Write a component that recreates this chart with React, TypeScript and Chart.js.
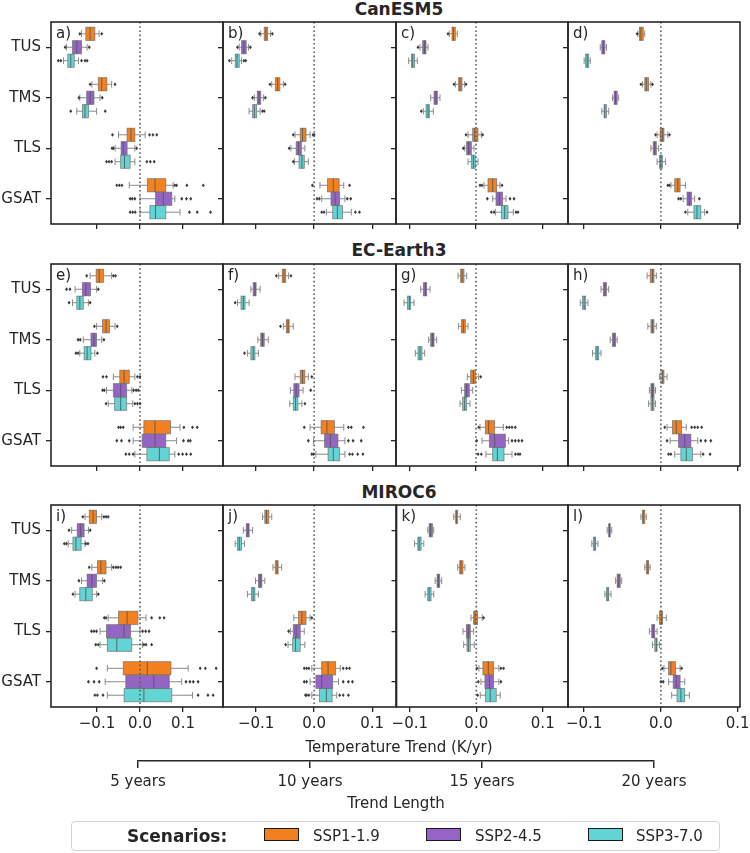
import React, { useEffect, useRef } from "react";
import { Chart, registerables } from "chart.js";

Chart.register(...registerables);

// Box summary: [lower whisker, Q1, median, Q3, upper whisker] in K/yr
type Box = [number, number, number, number, number];

const VARIABLES = ["TUS", "TMS", "TLS", "GSAT"];
const TREND_LENGTHS = [5, 10, 15, 20];
const MODELS = ["CanESM5", "EC-Earth3", "MIROC6"];
const SCENARIOS = ["SSP1-1.9", "SSP2-4.5", "SSP3-7.0"];
const SCENARIO_COLORS = ["#f4811f", "#9565c6", "#62d4d4"];
const PANEL_LETTERS = ["a", "b", "c", "d", "e", "f", "g", "h", "i", "j", "k", "l"];
const X_TICKS = [-0.1, 0, 0.1];
// shared x limits per trend length column
const X_MIN = [-0.207, -0.157, -0.12, -0.121];
const X_MAX = [0.193, 0.141, 0.138, 0.103];

// Each array: rows = trend length (5, 10, 15, 20 yr), columns = TUS, TMS, TLS, GSAT
const CANESM5_SSP119: Box[][] = [
  [[-0.136, -0.126, -0.116, -0.105, -0.095], [-0.112, -0.097, -0.089, -0.077, -0.066], [-0.05, -0.03, -0.021, -0.012, 0.012], [-0.025, 0.017, 0.035, 0.06, 0.077]],
  [[-0.092, -0.086, -0.083, -0.08, -0.075], [-0.073, -0.067, -0.063, -0.059, -0.053], [-0.033, -0.024, -0.02, -0.014, -0.007], [0.01, 0.023, 0.033, 0.043, 0.051]],
  [[-0.04, -0.036, -0.034, -0.031, -0.028], [-0.031, -0.026, -0.024, -0.021, -0.017], [-0.012, -0.005, -0.002, 0.003, 0.008], [0.012, 0.018, 0.025, 0.031, 0.036]],
  [[-0.03, -0.028, -0.026, -0.023, -0.021], [-0.024, -0.021, -0.019, -0.016, -0.013], [-0.005, -0.001, 0.002, 0.004, 0.009], [0.013, 0.018, 0.022, 0.025, 0.032]],
];
const CANESM5_SSP245: Box[][] = [
  [[-0.171, -0.157, -0.147, -0.136, -0.123], [-0.14, -0.124, -0.116, -0.107, -0.093], [-0.058, -0.044, -0.039, -0.03, -0.012], [0.0, 0.036, 0.054, 0.074, 0.081]],
  [[-0.129, -0.125, -0.121, -0.117, -0.113], [-0.103, -0.098, -0.095, -0.092, -0.087], [-0.04, -0.031, -0.027, -0.022, -0.016], [0.013, 0.029, 0.036, 0.044, 0.053]],
  [[-0.084, -0.08, -0.077, -0.075, -0.072], [-0.068, -0.063, -0.06, -0.058, -0.054], [-0.017, -0.014, -0.011, -0.007, -0.003], [0.025, 0.03, 0.035, 0.04, 0.045]],
  [[-0.079, -0.077, -0.075, -0.073, -0.071], [-0.063, -0.061, -0.059, -0.057, -0.055], [-0.013, -0.01, -0.008, -0.006, -0.003], [0.029, 0.034, 0.037, 0.04, 0.044]],
];
const CANESM5_SSP370: Box[][] = [
  [[-0.178, -0.168, -0.161, -0.153, -0.143], [-0.147, -0.134, -0.128, -0.12, -0.101], [-0.058, -0.045, -0.036, -0.023, -0.012], [0.0, 0.023, 0.036, 0.06, 0.093]],
  [[-0.142, -0.136, -0.133, -0.129, -0.125], [-0.112, -0.106, -0.103, -0.099, -0.093], [-0.034, -0.026, -0.021, -0.017, -0.01], [0.021, 0.032, 0.04, 0.049, 0.064]],
  [[-0.101, -0.097, -0.095, -0.092, -0.088], [-0.079, -0.075, -0.072, -0.07, -0.064], [-0.012, -0.007, -0.004, -0.001, 0.003], [0.029, 0.038, 0.043, 0.048, 0.056]],
  [[-0.1, -0.098, -0.096, -0.094, -0.092], [-0.077, -0.074, -0.073, -0.071, -0.068], [-0.005, -0.002, 0.0, 0.002, 0.006], [0.035, 0.043, 0.047, 0.052, 0.057]],
];

const ECEARTH3_SSP119: Box[][] = [
  [[-0.116, -0.102, -0.095, -0.085, -0.066], [-0.101, -0.087, -0.079, -0.071, -0.058], [-0.062, -0.047, -0.037, -0.025, -0.012], [-0.016, 0.009, 0.035, 0.071, 0.093]],
  [[-0.061, -0.055, -0.052, -0.049, -0.044], [-0.053, -0.048, -0.045, -0.043, -0.036], [-0.033, -0.024, -0.02, -0.016, -0.01], [-0.007, 0.012, 0.022, 0.035, 0.051]],
  [[-0.027, -0.023, -0.021, -0.018, -0.014], [-0.026, -0.022, -0.019, -0.016, -0.012], [-0.013, -0.008, -0.004, -0.001, 0.004], [0.006, 0.014, 0.019, 0.028, 0.041]],
  [[-0.018, -0.014, -0.011, -0.009, -0.006], [-0.017, -0.013, -0.011, -0.009, -0.006], [-0.002, 0.0, 0.002, 0.004, 0.008], [0.008, 0.015, 0.02, 0.027, 0.033]],
];
const ECEARTH3_SSP245: Box[][] = [
  [[-0.151, -0.134, -0.126, -0.115, -0.101], [-0.132, -0.114, -0.107, -0.101, -0.089], [-0.078, -0.062, -0.045, -0.031, -0.019], [-0.016, 0.005, 0.035, 0.06, 0.085]],
  [[-0.109, -0.105, -0.102, -0.1, -0.093], [-0.097, -0.092, -0.089, -0.086, -0.079], [-0.041, -0.035, -0.031, -0.026, -0.019], [-0.001, 0.018, 0.028, 0.041, 0.053]],
  [[-0.083, -0.079, -0.076, -0.074, -0.069], [-0.071, -0.068, -0.065, -0.063, -0.059], [-0.022, -0.017, -0.014, -0.01, -0.005], [0.009, 0.02, 0.028, 0.044, 0.049]],
  [[-0.078, -0.075, -0.073, -0.071, -0.068], [-0.066, -0.063, -0.061, -0.059, -0.057], [-0.015, -0.013, -0.011, -0.009, -0.007], [0.012, 0.023, 0.031, 0.039, 0.048]],
];
const ECEARTH3_SSP370: Box[][] = [
  [[-0.157, -0.147, -0.14, -0.132, -0.12], [-0.14, -0.13, -0.123, -0.114, -0.105], [-0.074, -0.059, -0.045, -0.031, -0.017], [-0.012, 0.016, 0.045, 0.068, 0.081]],
  [[-0.132, -0.126, -0.122, -0.119, -0.112], [-0.115, -0.109, -0.105, -0.102, -0.096], [-0.042, -0.036, -0.032, -0.028, -0.021], [0.003, 0.024, 0.033, 0.044, 0.053]],
  [[-0.108, -0.103, -0.1, -0.098, -0.093], [-0.091, -0.087, -0.084, -0.081, -0.077], [-0.024, -0.02, -0.017, -0.014, -0.009], [0.015, 0.025, 0.032, 0.042, 0.054]],
  [[-0.105, -0.102, -0.1, -0.098, -0.095], [-0.089, -0.085, -0.083, -0.081, -0.078], [-0.016, -0.013, -0.011, -0.009, -0.007], [0.018, 0.026, 0.033, 0.041, 0.052]],
];

const MIROC6_SSP119: Box[][] = [
  [[-0.128, -0.118, -0.109, -0.101, -0.089], [-0.112, -0.099, -0.091, -0.079, -0.066], [-0.074, -0.05, -0.03, -0.005, 0.014], [-0.076, -0.039, 0.017, 0.072, 0.112]],
  [[-0.089, -0.085, -0.082, -0.078, -0.073], [-0.071, -0.067, -0.064, -0.062, -0.056], [-0.035, -0.027, -0.021, -0.014, -0.007], [-0.004, 0.013, 0.024, 0.037, 0.045]],
  [[-0.034, -0.031, -0.03, -0.028, -0.024], [-0.028, -0.025, -0.023, -0.02, -0.017], [-0.008, -0.004, -0.002, 0.002, 0.009], [0.004, 0.01, 0.018, 0.026, 0.034]],
  [[-0.026, -0.024, -0.023, -0.021, -0.019], [-0.021, -0.019, -0.017, -0.016, -0.014], [-0.005, -0.002, 0.001, 0.002, 0.007], [0.004, 0.01, 0.013, 0.019, 0.025]],
];
const MIROC6_SSP245: Box[][] = [
  [[-0.159, -0.146, -0.138, -0.13, -0.12], [-0.136, -0.123, -0.112, -0.101, -0.087], [-0.093, -0.078, -0.037, -0.022, 0.0], [-0.081, -0.033, 0.032, 0.068, 0.097]],
  [[-0.122, -0.117, -0.114, -0.112, -0.106], [-0.101, -0.096, -0.093, -0.09, -0.085], [-0.041, -0.036, -0.031, -0.024, -0.017], [-0.007, 0.003, 0.013, 0.032, 0.042]],
  [[-0.073, -0.071, -0.069, -0.066, -0.064], [-0.062, -0.059, -0.057, -0.055, -0.052], [-0.02, -0.015, -0.012, -0.009, -0.004], [0.007, 0.013, 0.02, 0.026, 0.034]],
  [[-0.07, -0.068, -0.067, -0.066, -0.064], [-0.059, -0.057, -0.055, -0.053, -0.051], [-0.015, -0.012, -0.01, -0.008, -0.005], [0.01, 0.016, 0.02, 0.025, 0.031]],
];
const MIROC6_SSP370: Box[][] = [
  [[-0.167, -0.156, -0.149, -0.137, -0.128], [-0.151, -0.14, -0.126, -0.111, -0.101], [-0.093, -0.076, -0.054, -0.019, 0.006], [-0.076, -0.037, 0.009, 0.074, 0.122]],
  [[-0.136, -0.132, -0.129, -0.125, -0.12], [-0.115, -0.108, -0.105, -0.102, -0.096], [-0.045, -0.037, -0.032, -0.024, -0.016], [-0.004, 0.009, 0.021, 0.031, 0.039]],
  [[-0.093, -0.088, -0.086, -0.083, -0.079], [-0.077, -0.073, -0.071, -0.068, -0.064], [-0.019, -0.014, -0.012, -0.009, -0.003], [0.006, 0.014, 0.021, 0.03, 0.036]],
  [[-0.09, -0.088, -0.086, -0.085, -0.082], [-0.073, -0.071, -0.069, -0.068, -0.065], [-0.011, -0.008, -0.006, -0.005, -0.002], [0.014, 0.021, 0.026, 0.031, 0.037]],
];

// Outliers beyond the whiskers, same layout as the box arrays
const CANESM5_SSP119_OUT: number[][][] = [
  [[-0.14, -0.089], [-0.116, -0.058], [-0.064, 0.022, 0.03, 0.039], [-0.054, -0.048, -0.042, 0.081, 0.085, 0.109, 0.147]],
  [[-0.094, -0.072], [-0.076, -0.05], [-0.036, -0.002, 0.0], [-0.003, 0.061]],
  [[-0.042], [-0.033, -0.015], [-0.015, 0.01], [0.006, 0.009, 0.039]],
  [[-0.031], [-0.026, -0.011], [-0.007, 0.011], [0.009, 0.011]],
];
const CANESM5_SSP245_OUT: number[][][] = [
  [[-0.174, -0.118], [-0.142, -0.088], [-0.065, -0.062, -0.008], [-0.023, -0.018, -0.012, 0.097, 0.108, 0.118]],
  [[-0.132, -0.11], [-0.106, -0.084], [-0.043], [0.005, 0.009, 0.057, 0.063]],
  [[-0.087], [], [-0.019], [0.017, 0.051, 0.057]],
  [[], [], [], [0.023, 0.026, 0.05]],
];
const CANESM5_SSP370_OUT: number[][][] = [
  [[-0.19, -0.184, -0.136, -0.128, -0.123], [-0.161, -0.081], [-0.078, -0.072, -0.066, 0.016, 0.024, 0.033], [-0.023, -0.017, -0.011, 0.115, 0.133, 0.164]],
  [[-0.146, -0.121, -0.118], [-0.089, -0.086], [-0.036], [0.013, 0.017, 0.071, 0.078]],
  [[], [-0.082], [], [0.023, 0.027, 0.06, 0.063]],
  [[], [], [], [0.032, 0.06]],
];
const ECEARTH3_SSP119_OUT: number[][][] = [
  [[-0.124, -0.062, -0.057], [-0.106, -0.053], [-0.086, -0.078, -0.006, 0.0], [-0.05, -0.045, -0.039, 0.102, 0.122, 0.133]],
  [[-0.065, -0.04], [-0.058], [-0.004], [-0.017, 0.059, 0.064, 0.085]],
  [[], [], [0.007], [0.004, 0.046, 0.05, 0.054, 0.059]],
  [[], [], [], [0.005, 0.04, 0.044, 0.048, 0.053]],
];
const ECEARTH3_SSP245_OUT: number[][][] = [
  [[-0.171, -0.163, -0.097], [-0.144, -0.139, -0.084], [-0.087, -0.083, -0.015, -0.009, -0.004], [-0.054, -0.043, -0.025, 0.101, 0.112, 0.117]],
  [[], [], [-0.006], [-0.01, 0.059, 0.067, 0.081]],
  [[], [], [], [0.001, 0.054, 0.059, 0.064, 0.069]],
  [[], [], [], [0.008, 0.052, 0.058, 0.065]],
];
const ECEARTH3_SSP370_OUT: number[][][] = [
  [[-0.165, -0.116], [-0.149, -0.144, -0.099], [-0.079, -0.012, -0.006, 0.0], [-0.033, -0.025, -0.016, 0.09, 0.099, 0.108, 0.118]],
  [[-0.136], [-0.12], [-0.016], [-0.004, -0.001, 0.061, 0.066, 0.075, 0.084]],
  [[], [], [], [0.003, 0.008, 0.059, 0.063, 0.066]],
  [[], [], [], [0.01, 0.013, 0.055, 0.064]],
];
const MIROC6_SSP119_OUT: number[][][] = [
  [[-0.133, -0.084, -0.079, -0.074], [-0.118, -0.062, -0.056, -0.051, -0.045], [-0.083, -0.079, 0.027, 0.046, 0.056], [-0.101, 0.14, 0.152, 0.177]],
  [[], [], [-0.004], [-0.017, -0.013, -0.009, 0.05, 0.056, 0.061]],
  [[], [], [0.011], [0.001, 0.037, 0.041]],
  [[], [], [], [0.002, 0.027]],
];
const MIROC6_SSP245_OUT: number[][][] = [
  [[-0.165, -0.116], [-0.142, -0.083], [-0.113, -0.107, -0.101, 0.006, 0.013, 0.021], [-0.12, -0.107, -0.095, 0.107, 0.116, 0.124, 0.135]],
  [[], [], [-0.044], [-0.017, -0.013, 0.05, 0.059, 0.066]],
  [[], [], [], [0.003, 0.037]],
  [[], [], [], [0.0, 0.003]],
];
const MIROC6_SSP370_OUT: number[][][] = [
  [[-0.176, -0.171, -0.126, -0.121], [-0.156, -0.097], [-0.103, -0.097, 0.009, 0.014, 0.027], [-0.105, -0.099, -0.086, 0.135, 0.158, 0.17]],
  [[], [], [-0.049], [-0.015, -0.013, -0.009, 0.044, 0.05, 0.059]],
  [[], [], [], [0.002]],
  [[], [], [], []],
];

const MODEL_BOXES = [
  [CANESM5_SSP119, CANESM5_SSP245, CANESM5_SSP370],
  [ECEARTH3_SSP119, ECEARTH3_SSP245, ECEARTH3_SSP370],
  [MIROC6_SSP119, MIROC6_SSP245, MIROC6_SSP370],
];
const MODEL_OUTLIERS = [
  [CANESM5_SSP119_OUT, CANESM5_SSP245_OUT, CANESM5_SSP370_OUT],
  [ECEARTH3_SSP119_OUT, ECEARTH3_SSP245_OUT, ECEARTH3_SSP370_OUT],
  [MIROC6_SSP119_OUT, MIROC6_SSP245_OUT, MIROC6_SSP370_OUT],
];

// page layout (px)
const PANEL_LEFT = [51, 223, 396, 568];
const PANEL_WIDTH = [172, 173, 172, 172];
const PANEL_TOP = [22, 264, 505];
const PANEL_HEIGHT = 202;
const PAD_TOP = 16;
const PAD_RIGHT = 16;
const TITLE_CENTER_Y = [9, 250, 491.5];
const FIG_CENTER_X = 399;

const INK = "#262626";
const BOX_EDGE = "rgba(105, 105, 105, 0.8)";
const WHISKER_COLOR = "#8a8a8a";
const MEDIAN_COLOR = "rgba(85, 85, 85, 0.85)";
const OUTLIER_COLOR = "#3c3c3c";
const FONT = "'DejaVu Sans', sans-serif";

Chart.defaults.font.family = FONT;
Chart.defaults.font.size = 15;
Chart.defaults.color = INK;

const fmtTick = (v: number) => {
  const s = Math.abs(v) < 1e-9 ? "0.0" : v.toFixed(1);
  return s.replace("-", "\u2212");
};

function yAxisWidth(c: number) {
  return c === 0 ? 51 : 8;
}
function xAxisHeight(r: number) {
  return r === MODELS.length - 1 ? 40 : 16;
}

function boxPlugin(stats: Box[][], outliers: number[][][], letter: string) {
  return {
    id: "boxExtras",
    afterDatasetsDraw(chart: any) {
      const ctx: CanvasRenderingContext2D = chart.ctx;
      const xs = chart.scales.x;
      const area = chart.chartArea;
      const px = (v: number) => xs.getPixelForValue(v);
      ctx.save();
      // box outlines, whiskers, caps and medians
      chart.data.datasets.forEach((_: any, k: number) => {
        const meta = chart.getDatasetMeta(k);
        meta.data.forEach((el: any, j: number) => {
          const { y, height } = el.getProps(["y", "height"], true);
          const [lo, q1, med, q3, hi] = stats[k][j];
          const cap = height * 0.25;
          ctx.strokeStyle = WHISKER_COLOR;
          ctx.lineWidth = 1;
          ctx.beginPath();
          ctx.moveTo(px(lo), y);
          ctx.lineTo(px(q1), y);
          ctx.moveTo(px(q3), y);
          ctx.lineTo(px(hi), y);
          ctx.moveTo(px(lo), y - cap);
          ctx.lineTo(px(lo), y + cap);
          ctx.moveTo(px(hi), y - cap);
          ctx.lineTo(px(hi), y + cap);
          ctx.stroke();
          ctx.strokeStyle = BOX_EDGE;
          ctx.lineWidth = 0.8;
          ctx.strokeRect(px(q1), y - height / 2, px(q3) - px(q1), height);
          ctx.strokeStyle = MEDIAN_COLOR;
          ctx.lineWidth = 1;
          ctx.beginPath();
          ctx.moveTo(px(med), y - height / 2);
          ctx.lineTo(px(med), y + height / 2);
          ctx.stroke();
        });
      });
      // zero reference line
      const p0 = px(0);
      ctx.strokeStyle = "#5c5c5c";
      ctx.lineWidth = 1.6;
      ctx.setLineDash([1.6, 2.6]);
      ctx.beginPath();
      ctx.moveTo(p0, area.top);
      ctx.lineTo(p0, area.bottom);
      ctx.stroke();
      ctx.setLineDash([]);
      // outliers
      ctx.fillStyle = OUTLIER_COLOR;
      chart.data.datasets.forEach((_: any, k: number) => {
        const meta = chart.getDatasetMeta(k);
        meta.data.forEach((el: any, j: number) => {
          const { y } = el.getProps(["y"], true);
          outliers[k][j].forEach((v) => {
            const x = px(v);
            ctx.beginPath();
            ctx.moveTo(x, y - 1.9);
            ctx.lineTo(x + 1.5, y);
            ctx.lineTo(x, y + 1.9);
            ctx.lineTo(x - 1.5, y);
            ctx.closePath();
            ctx.fill();
          });
        });
      });
      ctx.restore();
    },
    afterDraw(chart: any) {
      const ctx: CanvasRenderingContext2D = chart.ctx;
      const a = chart.chartArea;
      ctx.save();
      ctx.strokeStyle = INK;
      ctx.lineWidth = 1.6;
      ctx.strokeRect(a.left, a.top, a.right - a.left, a.bottom - a.top);
      ctx.fillStyle = INK;
      ctx.font = `15px ${FONT}`;
      ctx.textBaseline = "middle";
      ctx.textAlign = "left";
      ctx.fillText(`${letter})`, a.left + 5, a.top + 12.5);
      ctx.restore();
    },
  };
}

function panelConfig(r: number, c: number): any {
  const stats = MODEL_BOXES[r].map((sc) => sc[c]);
  const outliers = MODEL_OUTLIERS[r].map((sc) => sc[c]);
  const bottomRow = r === MODELS.length - 1;
  return {
    type: "bar",
    data: {
      labels: VARIABLES,
      datasets: SCENARIOS.map((name, k) => ({
        label: name,
        data: stats[k].map((b) => [b[1], b[3]]),
        backgroundColor: SCENARIO_COLORS[k],
        borderWidth: 0,
        categoryPercentage: 0.8,
        barPercentage: 0.98,
      })),
    },
    options: {
      indexAxis: "y",
      animation: false,
      responsive: false,
      events: [],
      layout: { padding: { left: 0, top: PAD_TOP, right: PAD_RIGHT, bottom: 0 } },
      plugins: { legend: { display: false }, tooltip: { enabled: false } },
      scales: {
        x: {
          type: "linear",
          min: X_MIN[c],
          max: X_MAX[c],
          afterBuildTicks: (s: any) => {
            s.ticks = X_TICKS.map((v) => ({ value: v }));
          },
          afterFit: (s: any) => {
            s.height = xAxisHeight(r);
          },
          ticks: {
            display: bottomRow,
            padding: 3,
            maxRotation: 0,
            autoSkip: false,
            color: INK,
            callback: (v: any) => fmtTick(Number(v)),
          },
          grid: { drawOnChartArea: false, drawTicks: true, tickLength: 5, color: INK, lineWidth: 1.3 },
          border: { display: false },
        },
        y: {
          type: "category",
          offset: true,
          afterFit: (s: any) => {
            s.width = yAxisWidth(c);
          },
          ticks: { display: c === 0, padding: 5, color: INK, autoSkip: false },
          grid: { offset: false, drawOnChartArea: false, drawTicks: true, tickLength: 5, color: INK, lineWidth: 1.3 },
          border: { display: false },
        },
      },
    },
    plugins: [boxPlugin(stats, outliers, PANEL_LETTERS[r * TREND_LENGTHS.length + c])],
  };
}

// secondary axis showing the trend length of each column
const TREND_AXIS = { left: 100, top: 755, width: 600, height: 62, axisHeight: 56, start: 138, end: 654 };

function trendAxisConfig(): any {
  return {
    type: "line",
    data: { datasets: [] },
    options: {
      animation: false,
      responsive: false,
      events: [],
      layout: {
        padding: {
          left: TREND_AXIS.start - TREND_AXIS.left,
          right: TREND_AXIS.left + TREND_AXIS.width - TREND_AXIS.end,
          top: 0,
          bottom: 0,
        },
      },
      plugins: { legend: { display: false }, tooltip: { enabled: false } },
      scales: {
        x: {
          type: "linear",
          position: "bottom",
          min: TREND_LENGTHS[0],
          max: TREND_LENGTHS[TREND_LENGTHS.length - 1],
          afterBuildTicks: (s: any) => {
            s.ticks = TREND_LENGTHS.map((v) => ({ value: v }));
          },
          afterFit: (s: any) => {
            s.height = TREND_AXIS.axisHeight;
          },
          ticks: { padding: 5, maxRotation: 0, autoSkip: false, color: INK, callback: (v: any) => `${v} years` },
          grid: { drawOnChartArea: false, tickLength: 7, color: INK, lineWidth: 1.5 },
          border: { display: true, color: INK, width: 1.5 },
          title: { display: true, text: "Trend Length", color: INK, padding: { top: 0, bottom: 4 } },
        },
        y: { display: false },
      },
    },
  };
}

export default function App() {
  const panelRefs = useRef<(HTMLCanvasElement | null)[]>([]);
  const trendRef = useRef<HTMLCanvasElement | null>(null);

  useEffect(() => {
    const charts: Chart[] = [];
    MODELS.forEach((_, r) => {
      TREND_LENGTHS.forEach((__, c) => {
        const canvas = panelRefs.current[r * TREND_LENGTHS.length + c];
        if (canvas) charts.push(new Chart(canvas, panelConfig(r, c)));
      });
    });
    if (trendRef.current) charts.push(new Chart(trendRef.current, trendAxisConfig()));
    return () => charts.forEach((ch) => ch.destroy());
  }, []);

  const canvases: React.ReactNode[] = [];
  MODELS.forEach((_, r) => {
    TREND_LENGTHS.forEach((__, c) => {
      const i = r * TREND_LENGTHS.length + c;
      const yw = yAxisWidth(c);
      const w = yw + PANEL_WIDTH[c] + PAD_RIGHT;
      const h = PAD_TOP + PANEL_HEIGHT + xAxisHeight(r);
      canvases.push(
        <canvas
          key={i}
          ref={(el) => {
            panelRefs.current[i] = el;
          }}
          width={w}
          height={h}
          style={{ position: "absolute", left: PANEL_LEFT[c] - yw, top: PANEL_TOP[r] - PAD_TOP, width: w, height: h, display: "block" }}
        />
      );
    });
  });

  const legendItems = [
    { patch: 264, text: 313 },
    { patch: 426, text: 475 },
    { patch: 588, text: 636 },
  ];
  const legendLeft = 71;

  return (
    <div style={{ position: "absolute", left: 0, top: 0, width: 750, height: 853, background: "#fff", fontFamily: FONT, color: INK, overflow: "hidden" }}>
      {MODELS.map((name, r) => (
        <div
          key={name}
          style={{ position: "absolute", left: FIG_CENTER_X - 150, width: 300, top: TITLE_CENTER_Y[r] - 10, height: 20, lineHeight: "20px", textAlign: "center", fontWeight: "bold", fontSize: 17 }}
        >
          {name}
        </div>
      ))}
      {canvases}
      <div style={{ position: "absolute", left: FIG_CENTER_X - 200, width: 400, top: 738, height: 18, lineHeight: "18px", textAlign: "center", fontSize: 15 }}>
        Temperature Trend (K/yr)
      </div>
      <canvas
        ref={trendRef}
        width={TREND_AXIS.width}
        height={TREND_AXIS.height}
        style={{ position: "absolute", left: TREND_AXIS.left, top: TREND_AXIS.top, width: TREND_AXIS.width, height: TREND_AXIS.height, display: "block" }}
      />
      <div
        style={{ position: "absolute", left: legendLeft, top: 821, width: 649, height: 30, boxSizing: "border-box", border: "1px solid #d4d4d4", borderRadius: 4, background: "#fff" }}
      >
        <div style={{ position: "absolute", left: 127 - legendLeft - 1, top: 0, height: 28, lineHeight: "28px", fontWeight: "bold", fontSize: 17 }}>Scenarios:</div>
        {SCENARIOS.map((s, k) => (
          <React.Fragment key={s}>
            <div
              style={{ position: "absolute", left: legendItems[k].patch - legendLeft - 1, top: 6, width: 35, height: 13, boxSizing: "border-box", border: "1.5px solid #1a1a1a", background: SCENARIO_COLORS[k] }}
            />
            <div style={{ position: "absolute", left: legendItems[k].text - legendLeft - 1, top: 0, height: 28, lineHeight: "28px", fontSize: 15 }}>{s}</div>
          </React.Fragment>
        ))}
      </div>
    </div>
  );
}
